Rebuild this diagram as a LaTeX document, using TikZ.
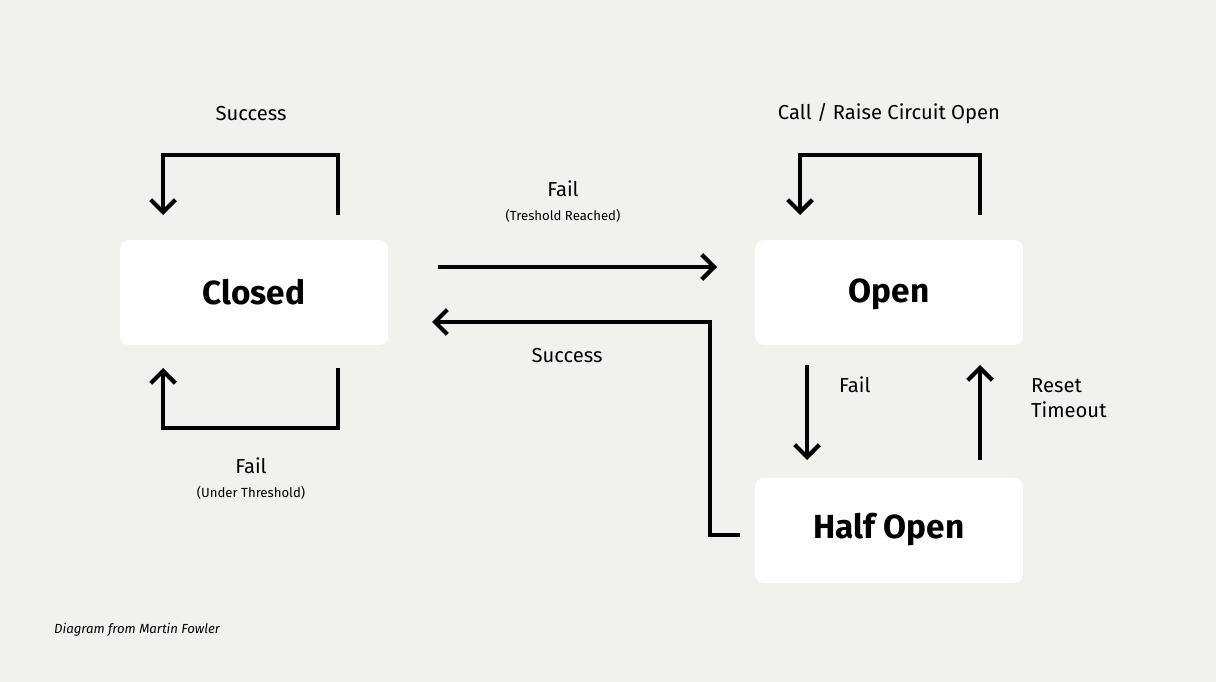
\documentclass[tikz,border=0pt]{standalone}
\usepackage{fontspec}
\setmainfont{Fira Sans}
\usetikzlibrary{arrows.meta}
\definecolor{bg}{HTML}{F1F1EE}
\begin{document}
\begin{tikzpicture}[x=0.02cm,y=-0.02cm,
  box/.style={fill=white,rounded corners=5pt,draw=none},
  lbl/.style={font=\bfseries\fontsize{19}{22}\selectfont},
  arr/.style={line width=2.4pt,-{Straight Barb[length=7pt,width=14pt,line width=2.4pt]}},
  txt/.style={font=\fontsize{11.5}{14}\selectfont},
  sm/.style={font=\fontsize{7.5}{9}\selectfont}]
\fill[bg] (0,0) rectangle (1216,682);
\useasboundingbox (0,0) rectangle (1216,682);
\fill[box] (120,240) rectangle (388,345);
\fill[box] (755,240) rectangle (1023,345);
\fill[box] (755,478) rectangle (1023,583);
\node[lbl] (closed) at (254,292) {Closed};
\node[lbl] (open) at (889,294) {Open};
\node[lbl] (half) at (889,530) {Half Open};
\coordinate (c1) at (338,215); \coordinate (c2) at (163,215);
\coordinate (c3) at (338,368); \coordinate (c4) at (163,368);
\draw[arr] (c1) |- (250,155) -| (c2);
\draw[arr] (c3) |- (250,428) -| (c4);
\coordinate (f1) at (438,267); \coordinate (f2) at (717,267);
\draw[arr] (f1) -- (f2);
\coordinate (s1) at (740,535); \coordinate (s2) at (432,322);
\draw[arr] (s1) -| (710,322) -- (s2);
\coordinate (o1) at (980,215); \coordinate (o2) at (800,215);
\draw[arr] (o1) |- (890,155) -| (o2);
\coordinate (d1) at (807,365); \coordinate (d2) at (807,460);
\draw[arr] (d1) -- (d2);
\coordinate (r1) at (980,460); \coordinate (r2) at (980,365);
\draw[arr] (r1) -- (r2);
\node[txt] (t1) at (251,114) {Success};
\node[txt] (t2) at (563,189) {Fail};
\node[sm] (t3) at (563,216) {(Treshold Reached)};
\node[txt] (t4) at (567,356) {Success};
\node[txt] (t5) at (251,466) {Fail};
\node[sm] (t6) at (251,493) {(Under Threshold)};
\node[txt] (t7) at (889,114) {Call / Raise Circuit Open};
\node[txt,anchor=west] (t8) at (833,385) {Fail};
\node[txt,anchor=west,align=left] (t9) at (1025,398) {Reset\\Timeout};
\node[anchor=west,font=\itshape\fontsize{7.5}{9}\selectfont] (t10) at (48,630) {Diagram from Martin Fowler};
\end{tikzpicture}
\end{document}
